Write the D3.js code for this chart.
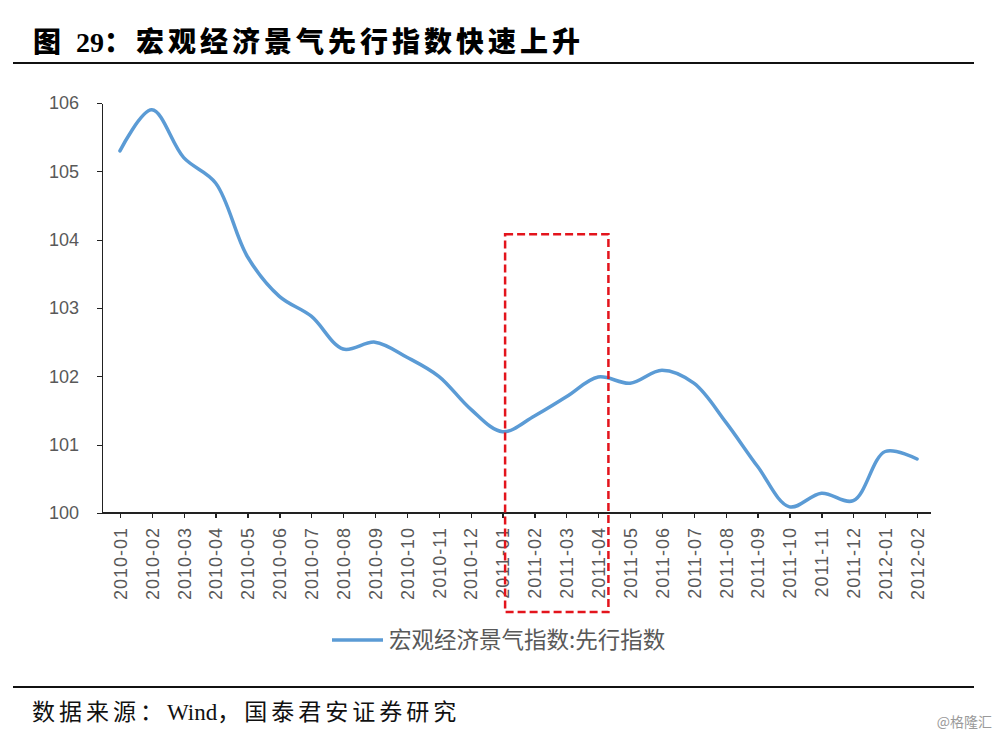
<!DOCTYPE html>
<html lang="zh">
<head>
<meta charset="utf-8">
<title>宏观经济景气先行指数</title>
<script src="https://cdn.jsdelivr.net/npm/d3@7"></script>
<style>
    body { margin: 0; background: #fff; }
    .title { font-family: "Liberation Serif", "Noto Sans CJK SC"; font-size: 28px; font-weight: 900; letter-spacing: 4px; fill: #000; }
    .source { font-family: "Liberation Serif", "Noto Sans CJK SC"; font-size: 23px; letter-spacing: 4px; fill: #111; }
    .tight { letter-spacing: 0; }
    .axis text { font-family: "Liberation Sans", "Noto Sans CJK SC"; font-size: 18px; fill: #595959; }
    .axis path, .axis line { stroke: #222; stroke-width: 1.3; shape-rendering: crispEdges; }
    .legend { font-family: "Noto Sans CJK SC"; font-size: 22.5px; fill: #595959; }
</style>
</head>
<body>
<script>
var months = ["2010-01","2010-02","2010-03","2010-04","2010-05","2010-06","2010-07","2010-08","2010-09",
    "2010-10","2010-11","2010-12","2011-01","2011-02","2011-03","2011-04","2011-05","2011-06","2011-07",
    "2011-08","2011-09","2011-10","2011-11","2011-12","2012-01","2012-02"];
var leading = [105.3, 105.9, 105.2, 104.83, 103.75, 103.17, 102.88, 102.4, 102.5,
    102.28, 102.0, 101.52, 101.19, 101.42, 101.7, 101.99, 101.9, 102.09, 101.9,
    101.33, 100.68, 100.09, 100.29, 100.18, 100.9, 100.79];
var yTicks = [100, 101, 102, 103, 104, 105, 106];
var seriesName = "宏观经济景气指数:先行指数";
// highlighted window (categories and value range)
var boxFrom = "2011-01", boxTo = "2011-04";
var boxValues = [98.55, 104.08];

var w = 1000, h = 736;
var svg = d3.select("body").append("svg").attr("width", w).attr("height", h);

// title + rules
var title = svg.append("text").attr("class", "title").attr("x", 33).attr("y", 52);
title.append("tspan").text("图 ");
title.append("tspan").attr("class", "tight").text("29");
title.append("tspan").text("：宏观经济景气先行指数快速上升");
svg.append("line").attr("x1", 13).attr("x2", 974).attr("y1", 63).attr("y2", 63)
    .attr("stroke", "#111").attr("stroke-width", 2);
svg.append("line").attr("x1", 13).attr("x2", 974).attr("y1", 687).attr("y2", 687)
    .attr("stroke", "#111").attr("stroke-width", 2);
var src = svg.append("text").attr("class", "source").attr("x", 32).attr("y", 720);
src.append("tspan").text("数据来源：");
src.append("tspan").attr("class", "tight").text("Wind");
src.append("tspan").text("，国泰君安证券研究");
svg.append("text").attr("x", 992).attr("y", 727).attr("text-anchor", "end")
    .style("font-family", "Noto Sans CJK SC").style("font-size", "14px").attr("fill", "#9a9a9a")
    .text("@格隆汇");

var x = d3.scalePoint().domain(months).range([104, 933]).padding(0.5);
var y = d3.scaleLinear().domain([100, 106]).range([513, 103]);

// y axis
svg.append("g").attr("class", "axis").attr("transform", "translate(102,0)")
    .call(d3.axisLeft(y).tickValues(yTicks).tickSize(5).tickSizeOuter(0).tickPadding(18).tickFormat(d3.format("d")));

// x axis
var xa = svg.append("g").attr("class", "axis").attr("transform", "translate(0,513)")
    .call(d3.axisBottom(x).tickSize(5).tickSizeOuter(0).tickPadding(8));
xa.select(".domain").attr("d", "M102,0H931");
xa.selectAll(".tick text")
    .attr("transform", "rotate(-90)")
    .attr("text-anchor", "end")
    .attr("dy", "0.35em")
    .attr("x", -14).attr("y", 0)
    .style("letter-spacing", "1px");

// series line
var line = d3.line()
    .x(function(d, i) { return x(months[i]); })
    .y(function(d) { return y(d); })
    .curve(d3.curveCatmullRom.alpha(0.5));
svg.append("path").datum(leading)
    .attr("d", line)
    .attr("fill", "none")
    .attr("stroke", "#5b9bd5")
    .attr("stroke-width", 3.5)
    .attr("stroke-linejoin", "round")
    .attr("stroke-linecap", "round");

// red dashed highlight box
var step = x.step();
var bx0 = x(boxFrom) + step * 0.08, bx1 = x(boxTo) + step * 0.32;
svg.append("rect")
    .attr("x", bx0).attr("y", y(boxValues[1]))
    .attr("width", bx1 - bx0).attr("height", y(boxValues[0]) - y(boxValues[1]))
    .attr("fill", "none")
    .attr("stroke", "#e3141c")
    .attr("stroke-width", 2.5)
    .attr("stroke-dasharray", "8,4");

// legend
svg.append("line").attr("x1", 332).attr("x2", 383).attr("y1", 640).attr("y2", 640)
    .attr("stroke", "#5b9bd5").attr("stroke-width", 3.5);
svg.append("text").attr("class", "legend").attr("x", 389).attr("y", 648).text(seriesName);
</script>
</body>
</html>
